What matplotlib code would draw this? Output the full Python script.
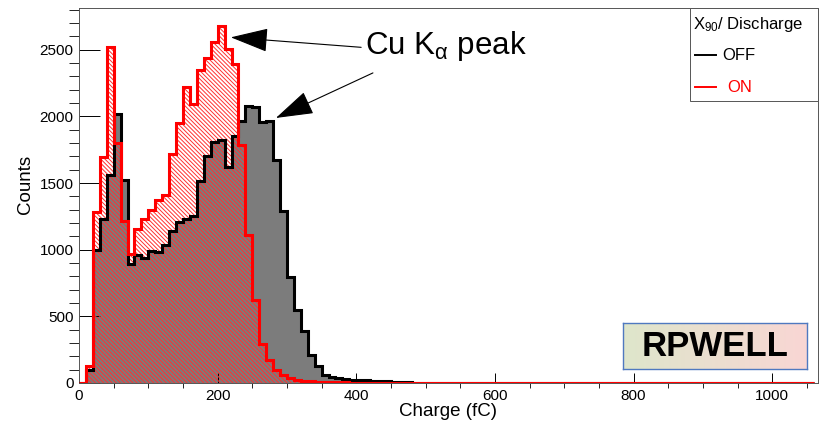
import numpy as np
import matplotlib.pyplot as plt
from matplotlib.patches import Rectangle
from matplotlib.lines import Line2D

plt.rcParams['font.family'] = ['Liberation Sans', 'DejaVu Sans']
plt.rcParams['mathtext.fontset'] = 'custom'
plt.rcParams['mathtext.rm'] = 'Liberation Sans'
plt.rcParams['mathtext.it'] = 'Liberation Sans:italic'
plt.rcParams['hatch.linewidth'] = 0.7

## charge bins in fC, 10 fC wide
bin_edges = np.arange(0, 1070, 10)

## counts per bin, discharge suppression OFF (first 51 bins, rest empty)
counts_off_head = [0, 100, 1001, 1233, 1563, 2020, 1520, 891, 959, 939,
                   989, 979, 1034, 1141, 1208, 1233, 1251, 1516, 1700, 1808,
                   1825, 1620, 1850, 1965, 2078, 2067, 1957, 1967, 1672, 1291,
                   796, 547, 392, 210, 130, 62, 42, 35, 30, 25,
                   22, 20, 18, 15, 13, 10, 7, 5, 3, 2, 1]

## counts per bin, discharge suppression ON
counts_on_head = [0, 130, 1283, 1695, 2519, 1800, 1213, 964, 1153, 1233,
                  1296, 1371, 1413, 1715, 1950, 2220, 2090, 2350, 2440, 2557,
                  2677, 2507, 2390, 1783, 1109, 622, 290, 172, 100, 60,
                  35, 22, 15, 12, 9, 7, 6, 5, 4, 3,
                  3, 2, 2, 1, 1]

n_bins = len(bin_edges) - 1
counts_off = np.zeros(n_bins)
counts_off[:len(counts_off_head)] = counts_off_head
counts_on = np.zeros(n_bins)
counts_on[:len(counts_on_head)] = counts_on_head

legend_title = 'X$_{90}$/ Discharge'
legend_labels = ['OFF', 'ON']
legend_colors = ['black', 'red']


fig = plt.figure(figsize=(8.23, 4.21), dpi=100)
ax = fig.add_axes([0.0960, 0.0903, 0.8979, 0.8907])

# OFF: grey fill, black outline
ax.stairs(counts_off, bin_edges, fill=True, facecolor='#7c7c7c',
          edgecolor='none', linewidth=0, zorder=1)
# ON: red hatch
ax.stairs(counts_on, bin_edges, fill=True, facecolor='none',
          edgecolor='#ff3030', hatch='\\' * 8, linewidth=0, zorder=2)
ax.stairs(counts_off, bin_edges, color='black', linewidth=2.2, zorder=3)
ax.stairs(counts_on, bin_edges, color='red', linewidth=2.2, zorder=4)

ax.set_xlim(0, 1066)
ax.set_ylim(0, 2813)

ax.set_xticks(np.arange(0, 1001, 200))
ax.set_xticks(np.arange(0, 1066, 50), minor=True)
ax.set_yticks(np.arange(0, 2501, 500))
ax.set_yticks(np.arange(0, 2813, 100), minor=True)
ax.tick_params(direction='in', top=False, right=False, labelsize=11,
               width=0.7, color='black')
ax.tick_params(axis='x', which='major', length=7.2, pad=4)
ax.tick_params(axis='x', which='minor', length=3.6)
ax.tick_params(axis='y', which='major', length=15, pad=4)
ax.tick_params(axis='y', which='minor', length=7.2)
for sp in ax.spines.values():
    sp.set_linewidth(0.7)
    sp.set_color('#555555')

ax.set_xlabel('Charge (fC)', fontsize=13.5, va='center')
ax.xaxis.set_label_coords(0.5, -0.075)
ax.set_ylabel('Counts', fontsize=13.5, va='center', ha='center')
ax.yaxis.set_label_coords(-0.072, 0.53)

# peak annotation
ax.annotate('', xy=(219, 2593), xytext=(407, 2518),
            arrowprops=dict(arrowstyle='-|>,head_length=2.4,head_width=0.76',
                            color='black', lw=0.8, shrinkA=0, shrinkB=0))
ax.annotate('', xy=(284, 1988), xytext=(424, 2326),
            arrowprops=dict(arrowstyle='-|>,head_length=2.4,head_width=0.76',
                            color='black', lw=0.8, shrinkA=0, shrinkB=0))
ax.text(413, 2470, 'Cu K$_{\\mathregular{α}}$ peak', fontsize=22.5,
        ha='left', va='baseline')

# legend box
W, H = 823.0, 421.0
fig.patches.append(Rectangle((690 / W, 1 - 101 / H), 128 / W, 93 / H,
                             transform=fig.transFigure, facecolor='white',
                             edgecolor='#555555', linewidth=0.7, zorder=5))
fig.text(693 / W, 1 - 24 / H, legend_title, fontsize=12, va='center',
         ha='left', zorder=6)
for i, (lab, col) in enumerate(zip(legend_labels, legend_colors)):
    yy = 1 - (55 + 32 * i) / H
    fig.add_artist(Line2D([695 / W, 716 / W], [yy, yy], color=col,
                          linewidth=1.4, transform=fig.transFigure, zorder=6))
    fig.text((722 + 5 * i) / W, yy, lab, fontsize=12, color=col,
             va='center', ha='left', zorder=6)

# label box with colour gradient
bx = fig.add_axes([622.7 / W, 1 - 369.3 / H, 184 / W, 46.6 / H])
left_rgb = np.array([222, 230, 203]) / 255.
right_rgb = np.array([249, 214, 212]) / 255.
t = np.linspace(0, 1, 200)
grad = left_rgb[None, :] * (1 - t[:, None]) + right_rgb[None, :] * t[:, None]
bx.imshow(grad[None, :, :], aspect='auto', extent=(0, 1, 0, 1))
bx.set_xticks([])
bx.set_yticks([])
for sp in bx.spines.values():
    sp.set_color('#4f79c0')
    sp.set_linewidth(1.0)
bx.text(0.5, 0.5, 'RPWELL', fontsize=25, fontweight='bold', ha='center',
        va='center', transform=bx.transAxes)

fig.savefig('out.png', dpi=100)
